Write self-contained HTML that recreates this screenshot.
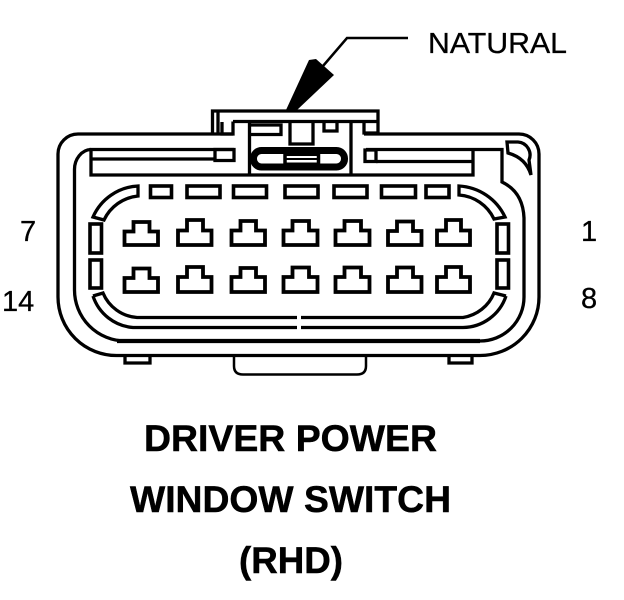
<!DOCTYPE html>
<html><head><meta charset="utf-8"><style>
html,body{margin:0;padding:0;background:#fff}
svg{display:block}
text{font-family:"Liberation Sans",sans-serif;fill:#000}
.b{font-weight:bold;font-size:37px;stroke:#000;stroke-width:.5px}
.n{font-size:29px;stroke:#000;stroke-width:.3px}
</style></head><body>
<svg width="624" height="600" viewBox="0 0 624 600" xmlns="http://www.w3.org/2000/svg">
<rect width="624" height="600" fill="#fff"/>
<g fill="none" stroke="#000" stroke-width="3.300" stroke-linejoin="miter">
<!-- outer body -->
<path d="M233 134H78A20 20 0 0 0 58 154V297A58.500 58.500 0 0 0 117 355.500H480A59 58.500 0 0 0 539 297V154A20 20 0 0 0 519 134H364"/>
<!-- bottom tab & feet -->
<path stroke-width="2.500" d="M234 356V366Q234 374.500 243 374.500H357Q366 374.500 366 366V356"/>
<path d="M125 356V363H150V356M449 356V363H472V356"/>
<!-- inner wall -->
<path d="M91 149.500A17 20 0 0 0 74.500 170V290A51 51 0 0 0 125 341H480A44 44 0 0 0 524 297V218Q523 192 502 182V149.500H366"/>
<path stroke-width="4.200" d="M117 341H480"/>
<path d="M234 149.500H91V175H473V150M91 159H215M376 161.500H473"/>
<path d="M215 149.500H234V160.500H215ZM365 150H376V161.500H365Z"/>
<!-- top housing -->
<path d="M212.500 134V111H378V134M218 111V134M233 121.500H378M222 122V134H233V121.500"/>
<path d="M249.500 121.500V175M351 121.500V175"/>
<path d="M251 125H281V134.500H251M290 122V144H313V122M324 122V131H337V122M364 122V133H378"/>
<!-- pill -->
<rect x="253.500" y="150.500" width="91" height="16.500" rx="8" stroke-width="7"/>
<path d="M285 153V165M318.500 153V165" stroke-width="3.500"/>
<path d="M285 155H318M285 159H318M285 163.500H318" stroke-width="2"/>
<!-- notch -->
<path d="M507 142H518A13 13 0 0 1 529 160L531 175Q526 158 508 153Z"/>
<!-- top slots -->
<g stroke-width="3.600">
<rect x="150.500" y="186" width="21" height="11.500"/>
<rect x="187" y="186" width="33" height="11.500"/>
<rect x="233.500" y="186" width="33" height="11.500"/>
<rect x="285" y="186" width="33" height="11.500"/>
<rect x="334" y="186" width="33" height="11.500"/>
<rect x="381.500" y="186" width="34" height="11.500"/>
<rect x="426" y="186" width="23" height="11.500"/>
<!-- side slots -->
<rect x="90" y="224" width="11.500" height="29"/>
<rect x="90" y="260" width="11.500" height="28"/>
<rect x="497" y="224" width="11.500" height="29"/>
<rect x="497" y="260" width="11.500" height="28"/>
</g>
<!-- corner slots -->
<path d="M93 217A52 52 0 0 1 138 186V196A42 42 0 0 0 104 220Z"/>
<path d="M459 186A54 54 0 0 1 505 217L494 219A42 42 0 0 0 459 195Z"/>
<path d="M93 296L103 293A40 40 0 0 0 137 317.500H297M93 296A46 46 0 0 0 133 327.500H297"/>
<path d="M506 296L494 293A40 40 0 0 1 463 317.500H301M506 296A46 46 0 0 1 463 327.500H301"/>
<!-- pins -->
<g stroke-width="3.800">
<path d="M124.500 245V231.500H133.500V222H149.500V231.500H158V245Z"/>
<path d="M178 245V230.500H187V220H203V230.500H211.500V245Z"/>
<path d="M231.500 245V230.500H240.500V221H256V230.500H265V245Z"/>
<path d="M283.500 245V230.500H292.500V221H309V230.500H317.500V245Z"/>
<path d="M335.500 245V230.500H344.500V221H361V230.500H369.500V245Z"/>
<path d="M388 245V231H397V221.500H413V231H421.500V245Z"/>
<path d="M437 245V230.500H446V220H461V230.500H470V245Z"/>
<path d="M124.500 292V278H133.500V268.500H149.500V278H158V292Z"/>
<path d="M178 292V277H187V267H203V277H211.500V292Z"/>
<path d="M231.500 292V277H240.500V268H256V277H265V292Z"/>
<path d="M283.500 292V277H292.500V267.500H309V277H317.500V292Z"/>
<path d="M335.500 292V277H344.500V267.500H361V277H369.500V292Z"/>
<path d="M388 292V277H397V267.500H413V277H421.500V292Z"/>
<path d="M437 292V277H446V267H461V277H470V292Z"/>
</g>
<!-- leader -->
<path d="M408 38H347L323 66" stroke-width="2.500"/>
</g>
<polygon points="286,110 309,60 316,59 334,75 297,110" fill="#000"/>
<text class="n" x="428" y="53" textLength="139" lengthAdjust="spacingAndGlyphs">NATURAL</text>
<text class="n" x="20" y="241">7</text>
<text class="n" x="581" y="241">1</text>
<text class="n" x="2" y="311">14</text>
<text class="n" x="581" y="308">8</text>
<text class="b" x="144" y="451" textLength="293" lengthAdjust="spacingAndGlyphs">DRIVER POWER</text>
<text class="b" x="130" y="512" textLength="321" lengthAdjust="spacingAndGlyphs">WINDOW SWITCH</text>
<text class="b" x="239" y="573" textLength="104" lengthAdjust="spacingAndGlyphs">(RHD)</text>
</svg>
</body></html>
